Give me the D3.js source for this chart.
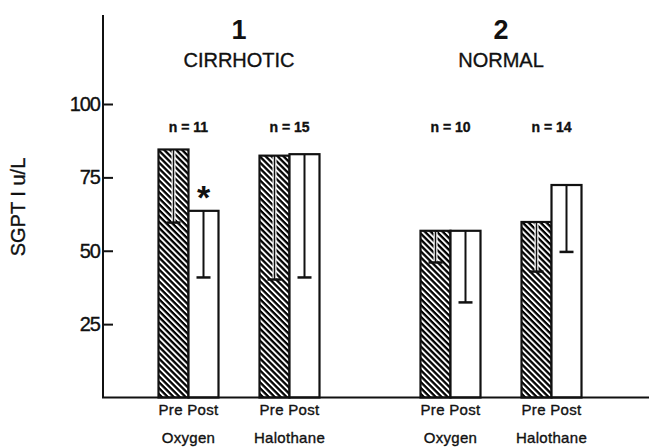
<!DOCTYPE html>
<html>
<head>
<meta charset="utf-8">
<script src="https://cdn.jsdelivr.net/npm/d3@7"></script>
<style>
  body { margin: 0; background: #fff; }
  svg { display: block; font-family: "Liberation Sans", Arial, sans-serif; }
  .lbl { fill: #111; stroke: #111; stroke-width: 0.35px; }
</style>
</head>
<body>
<div id="chart"></div>
<script>
var groups = ["CIRRHOTIC", "NORMAL"];
var groupNums = ["1", "2"];
var treatments = ["Oxygen", "Halothane"];
var phases = ["Pre", "Post"];
var nCounts = [[11, 15], [10, 14]];
var preMean = [[84.5, 82.4], [56.8, 59.8]];
var postMean = [[63.6, 82.9], [56.8, 72.4]];
var preLow = [[59.6, 40.2], [46, 42.9]];
var postLow = [[40.9, 40.9], [32.4, 49.6]];
var significant = [[false, true, false, false], [false, false, false, false]];
var yTicks = [25, 50, 75, 100];

(function() {
    var svg = d3.select("#chart").append("svg")
        .attr("width", 649)
        .attr("height", 447);

    var box = {xmin: 103, xmax: 649, ymin: 15, ymax: 397.5};

    var y = d3.scaleLinear().domain([0, 100]).range([box.ymax, 104]);

    var gx = d3.scaleBand().domain(groups).range([138, 602]).paddingInner(0.229).paddingOuter(0);
    var tx = d3.scaleBand().domain(treatments).range([0, gx.bandwidth()]);
    var pairW = 60;
    var px = d3.scaleBand().domain(phases).range([0, pairW]);

    function pairCenter(g, t) { return gx(g) + tx(t) + tx.bandwidth() / 2; }

    // hatch
    var pat = svg.append("defs").append("pattern")
        .attr("id", "hatch")
        .attr("patternUnits", "userSpaceOnUse")
        .attr("width", 4.2).attr("height", 4.2)
        .attr("patternTransform", "rotate(45)");
    pat.append("rect").attr("width", 4.2).attr("height", 4.2).attr("fill", "#fff");
    pat.append("rect").attr("width", 4.2).attr("height", 2.3).attr("fill", "#000");

    // flatten data
    var rows = [];
    groups.forEach(function(g, gi) {
        treatments.forEach(function(t, ti) {
            rows.push({g: g, gi: gi, t: t, ti: ti, n: nCounts[gi][ti],
                pre: preMean[gi][ti], post: postMean[gi][ti],
                preLow: preLow[gi][ti], postLow: postLow[gi][ti],
                sig: significant[gi][ti * 2 + 1]});
        });
    });

    var pair = svg.selectAll(".pair").data(rows).enter().append("g")
        .attr("class", "pair")
        .attr("transform", function(d) { return "translate(" + (pairCenter(d.g, d.t) - pairW / 2) + ",0)"; });

    // pre bar (hatched)
    pair.append("rect")
        .attr("x", px("Pre")).attr("width", px.bandwidth())
        .attr("y", function(d) { return y(d.pre); })
        .attr("height", function(d) { return y(0) - y(d.pre); })
        .attr("fill", "url(#hatch)")
        .attr("stroke", "#111").attr("stroke-width", 2.2);

    // post bar (open)
    pair.append("rect")
        .attr("x", px("Post")).attr("width", px.bandwidth())
        .attr("y", function(d) { return y(d.post); })
        .attr("height", function(d) { return y(0) - y(d.post); })
        .attr("fill", "#fff")
        .attr("stroke", "#111").attr("stroke-width", 2.2);

    // error bars
    var cx = px.bandwidth() / 2;
    pair.append("line")
        .attr("x1", px("Pre") + cx).attr("x2", px("Pre") + cx)
        .attr("y1", function(d) { return y(d.pre) + 1.2; })
        .attr("y2", function(d) { return y(d.preLow); })
        .attr("stroke", "#fff").attr("stroke-width", 4);
    pair.append("line")
        .attr("x1", px("Pre") + cx).attr("x2", px("Pre") + cx)
        .attr("y1", function(d) { return y(d.pre); })
        .attr("y2", function(d) { return y(d.preLow); })
        .attr("stroke", "#111").attr("stroke-width", 1.5);
    pair.append("line")
        .attr("x1", px("Pre") + cx - 7).attr("x2", px("Pre") + cx + 7)
        .attr("y1", function(d) { return y(d.preLow); })
        .attr("y2", function(d) { return y(d.preLow); })
        .attr("stroke", "#111").attr("stroke-width", 2.5);

    pair.append("line")
        .attr("x1", px("Post") + cx).attr("x2", px("Post") + cx)
        .attr("y1", function(d) { return y(d.post); })
        .attr("y2", function(d) { return y(d.postLow); })
        .attr("stroke", "#111").attr("stroke-width", 2);
    pair.append("line")
        .attr("x1", px("Post") + cx - 7).attr("x2", px("Post") + cx + 7)
        .attr("y1", function(d) { return y(d.postLow); })
        .attr("y2", function(d) { return y(d.postLow); })
        .attr("stroke", "#111").attr("stroke-width", 2.5);

    // asterisk
    pair.filter(function(d) { return d.sig; }).append("text")
        .attr("x", px("Post") + cx)
        .attr("y", function(d) { return y(d.post) - 2; })
        .attr("text-anchor", "middle")
        .style("font-size", "34px").style("font-weight", "bold")
        .attr("fill", "#111")
        .text("*");

    // n labels
    pair.append("text")
        .attr("class", "lbl")
        .attr("x", pairW / 2).attr("y", 131.5)
        .attr("text-anchor", "middle")
        .style("font-size", "14px").style("font-weight", "bold")
        .text(function(d) { return "n = " + d.n; });

    // x labels
    pair.append("text")
        .attr("class", "lbl")
        .attr("x", pairW / 2).attr("y", 415)
        .attr("text-anchor", "middle")
        .style("font-size", "15px").style("letter-spacing", "0.3px")
        .text(phases.join(" "));
    pair.append("text")
        .attr("class", "lbl")
        .attr("x", pairW / 2).attr("y", 443)
        .attr("text-anchor", "middle")
        .style("font-size", "15px").style("letter-spacing", "0.3px")
        .text(function(d) { return d.t; });

    // group titles
    var gt = svg.selectAll(".gtitle").data(groups).enter().append("g")
        .attr("transform", function(d) { return "translate(" + (gx(d) + gx.bandwidth() / 2) + ",0)"; });
    gt.append("text")
        .attr("y", 39).attr("text-anchor", "middle")
        .style("font-size", "27px").style("font-weight", "bold")
        .attr("fill", "#111")
        .text(function(d, i) { return groupNums[i]; });
    gt.append("text")
        .attr("class", "lbl")
        .attr("y", 67).attr("text-anchor", "middle")
        .style("font-size", "20px")
        .text(function(d) { return d; });

    // axes
    var yAxis = svg.append("g")
        .attr("transform", "translate(" + box.xmin + ",0)")
        .call(d3.axisLeft(y).tickValues(yTicks).tickSizeInner(-10).tickSizeOuter(0).tickPadding(3));
    yAxis.select(".domain").remove();
    yAxis.selectAll(".tick line").attr("stroke", "#111").attr("stroke-width", 2);
    yAxis.selectAll(".tick text")
        .attr("class", "lbl")
        .style("font-size", "20px")
        .style("letter-spacing", "-1px")
        .style("font-family", "'Liberation Sans', Arial, sans-serif");

    svg.append("line")
        .attr("x1", box.xmin).attr("x2", box.xmin)
        .attr("y1", box.ymin).attr("y2", y(0))
        .attr("stroke", "#111").attr("stroke-width", 2);
    svg.append("line")
        .attr("x1", box.xmin - 1).attr("x2", box.xmax)
        .attr("y1", y(0)).attr("y2", y(0))
        .attr("stroke", "#111").attr("stroke-width", 2);

    svg.append("text")
        .attr("class", "lbl")
        .attr("transform", "translate(25,207) rotate(-90)")
        .attr("text-anchor", "middle")
        .style("font-size", "20px")
        .text("SGPT I u/L");
})();
</script>
</body>
</html>
